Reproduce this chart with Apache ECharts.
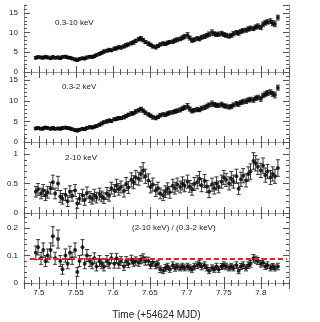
<!DOCTYPE html>
<html>
<head>
<meta charset="utf-8">
<script src="https://cdn.jsdelivr.net/npm/echarts@6/dist/echarts.min.js"></script>
<style>
  html, body { margin: 0; padding: 0; background: #fff; }
  #chart { width: 320px; height: 322px; }
</style>
</head>
<body>
<div id="chart"></div>
<script>
// time bins (days, +54624 MJD)
const times = [
  7.496, 7.499, 7.503, 7.506, 7.509, 7.512, 7.516, 7.519, 7.522, 7.526,
  7.529, 7.532, 7.536, 7.539, 7.542, 7.545, 7.549, 7.552, 7.555, 7.559,
  7.562, 7.565, 7.569, 7.572, 7.575, 7.578, 7.582, 7.585, 7.588, 7.592,
  7.595, 7.598, 7.602, 7.605, 7.608, 7.611, 7.615, 7.618, 7.621, 7.625,
  7.628, 7.631, 7.635, 7.638, 7.641, 7.644, 7.648, 7.651, 7.654, 7.658,
  7.661, 7.664, 7.668, 7.671, 7.674, 7.677, 7.681, 7.684, 7.687, 7.691,
  7.694, 7.697, 7.701, 7.704, 7.707, 7.710, 7.714, 7.717, 7.720, 7.724,
  7.727, 7.730, 7.734, 7.737, 7.740, 7.743, 7.747, 7.750, 7.753, 7.757,
  7.760, 7.763, 7.767, 7.770, 7.773, 7.776, 7.780, 7.783, 7.786, 7.790,
  7.793, 7.796, 7.800, 7.803, 7.806, 7.809, 7.813, 7.816, 7.819, 7.823
]

// 0.3-10 keV
const totalRate = [
  3.6, 3.8, 3.7, 3.6, 3.9, 3.7, 3.5, 3.8, 3.6, 3.7,
  3.5, 3.8, 3.9, 3.7, 3.6, 3.4, 3.2, 3.0, 3.3, 3.5,
  3.4, 3.7, 3.9, 3.8, 4.0, 4.3, 4.6, 4.9, 5.2, 5.4,
  5.6, 5.5, 5.9, 6.0, 6.3, 6.2, 6.5, 6.8, 7.0, 7.3,
  7.5, 7.9, 8.3, 8.5, 8.1, 7.6, 7.2, 6.9, 6.5, 6.3,
  6.6, 7.0, 7.2, 7.1, 7.4, 7.6, 7.7, 8.0, 8.2, 8.4,
  8.7, 9.0, 9.3, 8.6, 8.0, 8.2, 8.5, 8.4, 8.8, 9.0,
  9.3, 9.6, 10.0, 9.7, 9.5, 9.6, 9.8, 9.5, 9.3, 9.1,
  9.3, 9.7, 10.0, 9.9, 10.3, 10.5, 10.6, 10.9, 11.1, 11.0,
  11.4, 11.6, 11.3, 12.1, 12.5, 12.7, 12.9, 12.4, 12.2, 13.8
]
const totalErr = [
  0.3, 0.3, 0.35, 0.3, 0.3, 0.35, 0.3, 0.3, 0.3, 0.35,
  0.3, 0.3, 0.35, 0.3, 0.3, 0.3, 0.35, 0.3, 0.3, 0.3,
  0.3, 0.35, 0.3, 0.3, 0.35, 0.3, 0.35, 0.35, 0.4, 0.35,
  0.4, 0.35, 0.4, 0.4, 0.35, 0.4, 0.4, 0.45, 0.4, 0.4,
  0.45, 0.4, 0.45, 0.5, 0.45, 0.4, 0.45, 0.4, 0.4, 0.45,
  0.4, 0.4, 0.45, 0.4, 0.45, 0.4, 0.45, 0.45, 0.5, 0.45,
  0.5, 0.55, 0.7, 0.5, 0.45, 0.5, 0.45, 0.5, 0.5, 0.5,
  0.5, 0.55, 0.7, 0.5, 0.5, 0.55, 0.5, 0.5, 0.5, 0.5,
  0.5, 0.55, 0.5, 0.6, 0.5, 0.55, 0.5, 0.55, 0.55, 0.5,
  0.55, 0.6, 0.55, 0.6, 0.6, 0.55, 0.6, 0.65, 0.7, 0.6
]

// 0.3-2 keV
const softRate = [
  3.3, 3.4, 3.2, 3.3, 3.5, 3.4, 3.2, 3.4, 3.2, 3.3,
  3.2, 3.4, 3.5, 3.4, 3.3, 3.1, 2.9, 2.8, 3.0, 3.2,
  3.1, 3.4, 3.6, 3.5, 3.7, 3.9, 4.2, 4.5, 4.8, 5.0,
  5.2, 5.1, 5.5, 5.6, 5.8, 5.8, 6.0, 6.3, 6.6, 6.9,
  7.0, 7.4, 7.7, 8.0, 7.6, 7.1, 6.7, 6.4, 6.0, 5.8,
  6.1, 6.5, 6.7, 6.6, 6.9, 7.1, 7.2, 7.4, 7.6, 7.8,
  8.1, 8.4, 8.7, 8.0, 7.5, 7.7, 7.9, 7.8, 8.2, 8.4,
  8.7, 9.0, 9.3, 9.1, 8.9, 8.9, 9.1, 8.8, 8.7, 8.5,
  8.6, 9.0, 9.3, 9.2, 9.6, 9.8, 9.9, 10.2, 10.3, 10.2,
  10.6, 10.8, 10.5, 11.3, 11.6, 11.9, 12.1, 11.7, 11.4, 13.2
]
const softErr = [
  0.3, 0.3, 0.3, 0.35, 0.3, 0.3, 0.3, 0.35, 0.3, 0.3,
  0.3, 0.35, 0.3, 0.3, 0.3, 0.3, 0.3, 0.35, 0.3, 0.3,
  0.3, 0.3, 0.35, 0.3, 0.3, 0.35, 0.35, 0.35, 0.35, 0.4,
  0.35, 0.4, 0.35, 0.4, 0.4, 0.35, 0.4, 0.4, 0.4, 0.45,
  0.4, 0.45, 0.45, 0.45, 0.4, 0.45, 0.4, 0.4, 0.45, 0.4,
  0.4, 0.45, 0.4, 0.4, 0.45, 0.45, 0.4, 0.45, 0.45, 0.5,
  0.45, 0.5, 0.65, 0.5, 0.45, 0.45, 0.5, 0.45, 0.5, 0.5,
  0.5, 0.5, 0.65, 0.5, 0.5, 0.5, 0.55, 0.5, 0.5, 0.5,
  0.5, 0.5, 0.55, 0.55, 0.5, 0.55, 0.55, 0.5, 0.55, 0.55,
  0.55, 0.55, 0.6, 0.55, 0.6, 0.6, 0.6, 0.6, 0.7, 0.6
]

// 2-10 keV
const hardRate = [
  0.36, 0.40, 0.33, 0.38, 0.30, 0.35, 0.42, 0.52, 0.33, 0.50,
  0.28, 0.24, 0.31, 0.20, 0.36, 0.29, 0.38, 0.16, 0.24, 0.30,
  0.22, 0.34, 0.27, 0.24, 0.30, 0.26, 0.32, 0.28, 0.25, 0.33,
  0.29, 0.42, 0.38, 0.46, 0.40, 0.44, 0.37, 0.49, 0.43, 0.56,
  0.52, 0.60, 0.58, 0.66, 0.72, 0.62, 0.55, 0.44, 0.48, 0.38,
  0.42, 0.33, 0.30, 0.36, 0.41, 0.35, 0.46, 0.42, 0.48, 0.44,
  0.50, 0.46, 0.53, 0.45, 0.40, 0.49, 0.52, 0.58, 0.47, 0.54,
  0.45, 0.36, 0.48, 0.42, 0.50, 0.44, 0.53, 0.60, 0.56, 0.50,
  0.58, 0.53, 0.62, 0.41, 0.57, 0.63, 0.55, 0.66, 0.70, 0.88,
  0.84, 0.78, 0.72, 0.80, 0.64, 0.70, 0.60, 0.66, 0.62, 0.76
]
const hardErr = [
  0.09, 0.1, 0.09, 0.1, 0.09, 0.1, 0.1, 0.12, 0.09, 0.12,
  0.1, 0.09, 0.1, 0.09, 0.1, 0.09, 0.1, 0.08, 0.09, 0.1,
  0.09, 0.1, 0.09, 0.09, 0.1, 0.09, 0.1, 0.09, 0.09, 0.1,
  0.09, 0.1, 0.1, 0.11, 0.1, 0.1, 0.1, 0.11, 0.1, 0.12,
  0.11, 0.12, 0.11, 0.12, 0.13, 0.12, 0.11, 0.1, 0.11, 0.1,
  0.1, 0.09, 0.09, 0.1, 0.1, 0.1, 0.11, 0.1, 0.11, 0.1,
  0.11, 0.1, 0.11, 0.1, 0.1, 0.11, 0.11, 0.12, 0.11, 0.11,
  0.1, 0.1, 0.11, 0.1, 0.11, 0.1, 0.11, 0.12, 0.11, 0.11,
  0.12, 0.11, 0.12, 0.1, 0.12, 0.12, 0.11, 0.12, 0.13, 0.14,
  0.13, 0.13, 0.12, 0.13, 0.12, 0.12, 0.12, 0.12, 0.12, 0.14
]

// (2-10 keV) / (0.3-2 keV)
const hrRatio = [
  0.11, 0.13, 0.09, 0.12, 0.08, 0.10, 0.12, 0.17, 0.09, 0.16,
  0.08, 0.05, 0.10, 0.07, 0.11, 0.09, 0.12, 0.04, 0.08, 0.13,
  0.07, 0.10, 0.08, 0.07, 0.09, 0.06, 0.08, 0.07, 0.06, 0.08,
  0.07, 0.09, 0.07, 0.09, 0.07, 0.08, 0.06, 0.08, 0.07, 0.085,
  0.075, 0.08, 0.075, 0.085, 0.09, 0.08, 0.08, 0.065, 0.075, 0.065,
  0.07, 0.05, 0.045, 0.055, 0.06, 0.05, 0.065, 0.055, 0.06, 0.055,
  0.06, 0.055, 0.06, 0.055, 0.05, 0.06, 0.065, 0.07, 0.06, 0.065,
  0.055, 0.045, 0.055, 0.05, 0.06, 0.05, 0.06, 0.065, 0.06, 0.055,
  0.06, 0.055, 0.065, 0.045, 0.06, 0.065, 0.055, 0.065, 0.07, 0.09,
  0.085, 0.08, 0.07, 0.075, 0.06, 0.065, 0.055, 0.06, 0.055, 0.06
]
const hrErr = [
  0.025, 0.028, 0.022, 0.026, 0.02, 0.024, 0.026, 0.035, 0.022, 0.033,
  0.02, 0.018, 0.024, 0.018, 0.024, 0.022, 0.026, 0.016, 0.02, 0.028,
  0.018, 0.022, 0.02, 0.018, 0.02, 0.016, 0.02, 0.018, 0.016, 0.02,
  0.016, 0.018, 0.016, 0.018, 0.016, 0.016, 0.014, 0.016, 0.014, 0.016,
  0.014, 0.015, 0.014, 0.015, 0.016, 0.015, 0.014, 0.013, 0.014, 0.013,
  0.013, 0.012, 0.011, 0.012, 0.012, 0.011, 0.012, 0.012, 0.012, 0.011,
  0.012, 0.011, 0.012, 0.011, 0.011, 0.012, 0.012, 0.013, 0.012, 0.012,
  0.011, 0.011, 0.011, 0.011, 0.012, 0.011, 0.011, 0.012, 0.012, 0.011,
  0.012, 0.011, 0.012, 0.011, 0.011, 0.012, 0.011, 0.012, 0.012, 0.014,
  0.013, 0.013, 0.012, 0.013, 0.011, 0.012, 0.011, 0.011, 0.011, 0.012
]

// mean hardness ratio (red dashed line)
const ratioMean = 0.087
const ratioSpan = [7.488, 7.835]

const panelLabels = ['0.3-10 keV', '0.3-2 keV', '2-10 keV', '(2-10 keV) / (0.3-2 keV)']

const FONT = '"Liberation Sans", Arial, sans-serif'
const X_MIN = 7.48
const X_MAX = 7.838

const panels = [
  { rate: totalRate, err: totalErr, max: 17, major: 5, minor: 1 },
  { rate: softRate, err: softErr, max: 17, major: 5, minor: 1 },
  { rate: hardRate, err: hardErr, max: 1.2, major: 0.5, minor: 0.1 },
  { rate: hrRatio, err: hrErr, max: 0.255, major: 0.1, minor: 0.02 },
]
const gridTops = [5, 72, 142, 213]
const gridHeights = [67, 70, 71, 70]
const labelPos = [[55, 19], [62, 83], [65, 154], [132, 224]]

const chart = echarts.init(document.getElementById('chart'))

const grids = []
const xAxes = []
const yAxes = []
const series = []

// 误差棒
const errorBarItem = (params, api) => {
  const lo = api.coord([api.value(0), api.value(1)])
  const hi = api.coord([api.value(0), api.value(2)])
  const w = 2
  const style = { stroke: '#333', lineWidth: 1 }
  return {
    type: 'group',
    children: [
      { type: 'line', shape: { x1: lo[0], y1: lo[1], x2: hi[0], y2: hi[1] }, style },
      { type: 'line', shape: { x1: lo[0] - w, y1: lo[1], x2: lo[0] + w, y2: lo[1] }, style },
      { type: 'line', shape: { x1: hi[0] - w, y1: hi[1], x2: hi[0] + w, y2: hi[1] }, style },
    ],
  }
}

panels.forEach((p, g) => {
  const last = g === panels.length - 1
  grids.push({ left: 24, right: 31, top: gridTops[g], height: gridHeights[g] })

  ;['bottom', 'top'].forEach((pos) => {
    const labelled = last && pos === 'bottom'
    // major ticks (0.05)
    xAxes.push({
      type: 'value',
      gridIndex: g,
      position: pos,
      min: X_MIN,
      max: X_MAX,
      splitNumber: 7,
      axisLine: { show: true, lineStyle: { color: '#9a9a9a', width: 1 } },
      axisTick: { inside: true, length: 6, lineStyle: { color: '#555' } },
      axisLabel: {
        show: labelled,
        showMinLabel: false,
        showMaxLabel: false,
        margin: 6,
        fontSize: 8,
        color: '#222',
        fontFamily: FONT,
      },
      splitLine: { show: false },
      name: labelled ? 'Time (+54624 MJD)' : '',
      nameLocation: 'middle',
      nameGap: 27,
      nameTextStyle: { fontSize: 10, color: '#222', fontFamily: FONT },
    })
    // minor ticks (0.01)
    xAxes.push({
      type: 'value',
      gridIndex: g,
      position: pos,
      min: X_MIN,
      max: X_MAX,
      interval: 0.01,
      axisLine: { show: false },
      axisTick: { inside: true, length: 3, lineStyle: { color: '#555' } },
      axisLabel: { show: false },
      splitLine: { show: false },
    })
  })

  ;['left', 'right'].forEach((pos) => {
    yAxes.push({
      type: 'value',
      gridIndex: g,
      position: pos,
      min: 0,
      max: p.max,
      interval: p.major,
      axisLine: { show: true, lineStyle: { color: '#9a9a9a', width: 1 } },
      axisTick: { show: true, inside: true, length: 6, lineStyle: { color: '#555' } },
      axisLabel: {
        show: pos === 'left',
        showMaxLabel: false,
        margin: 6,
        fontSize: 8,
        color: '#222',
        fontFamily: FONT,
      },
      splitLine: { show: false },
    })
    yAxes.push({
      type: 'value',
      gridIndex: g,
      position: pos,
      min: 0,
      max: p.max,
      interval: p.minor,
      axisLine: { show: false },
      axisTick: { show: true, inside: true, length: 3, lineStyle: { color: '#555' } },
      axisLabel: { show: false },
      splitLine: { show: false },
    })
  })

  series.push({
    type: 'custom',
    xAxisIndex: 4 * g,
    yAxisIndex: 4 * g,
    silent: true,
    renderItem: errorBarItem,
    data: times.map((t, i) => [t, p.rate[i] - p.err[i], p.rate[i] + p.err[i]]),
  })
  series.push({
    type: 'scatter',
    xAxisIndex: 4 * g,
    yAxisIndex: 4 * g,
    symbol: 'circle',
    symbolSize: 4,
    itemStyle: { color: '#000' },
    data: times.map((t, i) => [t, p.rate[i]]),
  })
})

// mean ratio line
series.push({
  type: 'line',
  xAxisIndex: 12,
  yAxisIndex: 12,
  z: 10,
  symbol: 'none',
  lineStyle: { color: '#e8202a', width: 2, type: [5, 3] },
  data: ratioSpan.map((t) => [t, ratioMean]),
})

chart.setOption({
  animation: false,
  backgroundColor: '#fff',
  title: panelLabels.map((text, g) => ({
    text,
    left: labelPos[g][0],
    top: labelPos[g][1],
    padding: 0,
    textStyle: { fontSize: 8, fontWeight: 'normal', color: '#222', fontFamily: FONT },
  })),
  grid: grids,
  xAxis: xAxes,
  yAxis: yAxes,
  series,
})
</script>
</body>
</html>
